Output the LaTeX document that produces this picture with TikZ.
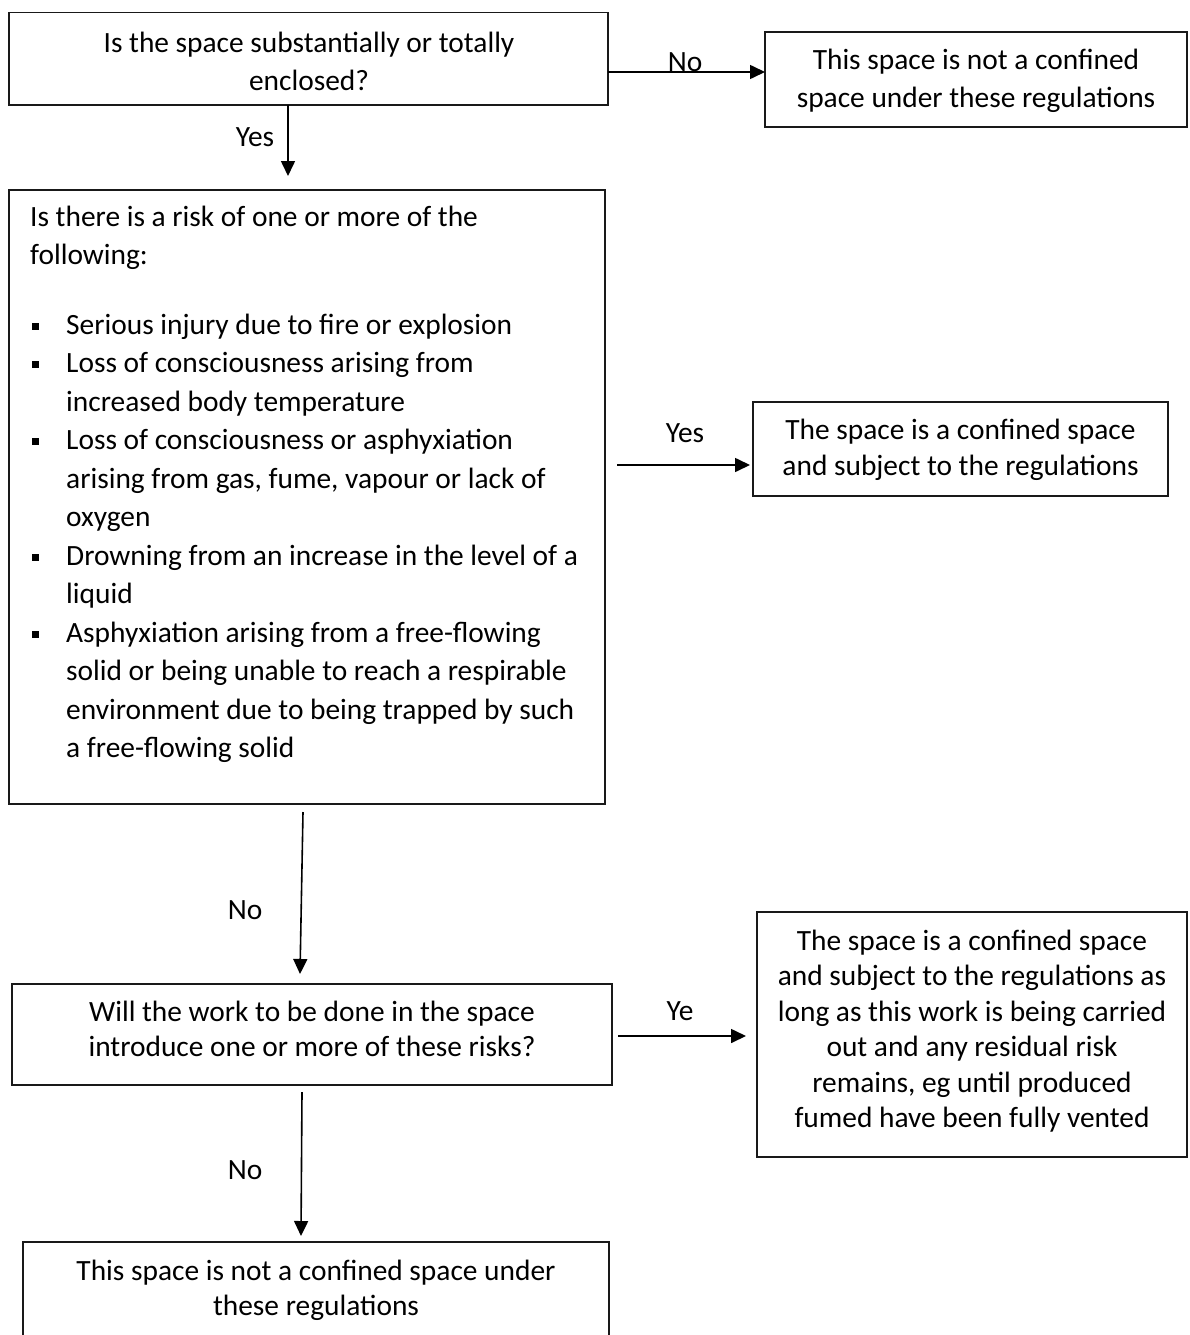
\documentclass[tikz,border=0pt]{standalone}
\usepackage{fontspec}
\setmainfont{Carlito}
\usetikzlibrary{arrows.meta}
\newcommand\sqbul{\makebox[34pt][l]{\rule[4.2pt]{7.2pt}{7.2pt}}}
\begin{document}
\begin{tikzpicture}[x=1pt,y=-1pt,
  box/.style={draw=black!90,line width=1.8pt,inner sep=0pt},
  txt/.style={inner sep=0pt,anchor=base,font=\fontsize{29.4}{34}\selectfont},
  ltxt/.style={inner sep=0pt,anchor=base west,font=\fontsize{29.4}{34}\selectfont},
  lab/.style={inner sep=0pt,font=\fontsize{29.4}{34}\selectfont},
  arr/.style={line width=1.6pt,-{Triangle[length=15pt,width=14pt]}}]
\useasboundingbox (0,0) rectangle (1190,1335);
\clip (0,0) rectangle (1190,1335);
% boxes
\node[box,minimum width=599pt,minimum height=92.5pt] (b1) at (308.5,58.75) {};
\node[box,minimum width=422pt,minimum height=95pt] (b2) at (976,79.5) {};
\node[box,minimum width=596pt,minimum height=614pt] (b3) at (307,497) {};
\node[box,minimum width=415pt,minimum height=94pt] (b4) at (960.5,449) {};
\node[box,minimum width=600pt,minimum height=101pt] (b5) at (312,1034.5) {};
\node[box,minimum width=430pt,minimum height=245pt] (b6) at (972,1034.5) {};
\node[box,minimum width=586pt,minimum height=96pt] (b7) at (316,1290) {};
% texts
\node[txt] (t1a) at (309,53) {Is the space substantially or totally};
\node[txt] (t1b) at (309,91) {enclosed?};
\node[txt] (t2a) at (976,70) {This space is not a confined};
\node[txt] (t2b) at (976,108) {space under these regulations};
\node[ltxt] (t3a) at (30,226) {Is there is a risk of one or more of the};
\node[ltxt] (t3b) at (30,264.5) {following:};
\node[ltxt] (t3c) at (32,334) {\sqbul Serious injury due to fire or explosion};
\node[ltxt] (t3d) at (32,372.5) {\sqbul Loss of consciousness arising from};
\node[ltxt] (t3e) at (66,411) {increased body temperature};
\node[ltxt] (t3f) at (32,449.5) {\sqbul Loss of consciousness or asphyxiation};
\node[ltxt] (t3g) at (66,488) {arising from gas, fume, vapour or lack of};
\node[ltxt] (t3h) at (66,526.5) {oxygen};
\node[ltxt] (t3i) at (32,565) {\sqbul Drowning from an increase in the level of a};
\node[ltxt] (t3j) at (66,603.5) {liquid};
\node[ltxt] (t3k) at (32,642) {\sqbul Asphyxiation arising from a free-flowing};
\node[ltxt] (t3l) at (66,680.5) {solid or being unable to reach a respirable};
\node[ltxt] (t3m) at (66,719) {environment due to being trapped by such};
\node[ltxt] (t3n) at (66,757.5) {a free-flowing solid};
\node[txt] (t4a) at (960.5,439) {The space is a confined space};
\node[txt] (t4b) at (960.5,475) {and subject to the regulations};
\node[txt] (t5a) at (312,1021) {Will the work to be done in the space};
\node[txt] (t5b) at (312,1056.5) {introduce one or more of these risks?};
\node[txt] (t6a) at (972,950) {The space is a confined space};
\node[txt] (t6b) at (972,985.5) {and subject to the regulations as};
\node[txt] (t6c) at (972,1021) {long as this work is being carried};
\node[txt] (t6d) at (972,1056.5) {out and any residual risk};
\node[txt] (t6e) at (972,1092) {remains, eg until produced};
\node[txt] (t6f) at (972,1127.5) {fumed have been fully vented};
\node[txt] (t7a) at (316,1280) {This space is not a confined space under};
\node[txt] (t7b) at (316,1315) {these regulations};
% connector ends
\coordinate (c1s) at (608,72);   \coordinate (c1e) at (765,72);
\coordinate (c2s) at (288,105);  \coordinate (c2e) at (288,176);
\coordinate (c3s) at (617,465);  \coordinate (c3e) at (750,465);
\coordinate (c4s) at (303,812);  \coordinate (c4e) at (300,974);
\coordinate (c5s) at (618,1036); \coordinate (c5e) at (746,1036);
\coordinate (c6s) at (302,1092); \coordinate (c6e) at (301,1236);
\draw[arr] (c1s) -- (c1e);
\draw[arr] (c2s) -- (c2e);
\draw[arr] (c3s) -- (c3e);
\draw[arr] (c4s) -- (c4e);
\draw[arr] (c5s) -- (c5e);
\draw[arr] (c6s) -- (c6e);
% labels
\node[lab] (l1) at (685,62) {No};
\node[lab] (l2) at (255,137) {Yes};
\node[lab] (l3) at (685,433) {Yes};
\node[lab] (l4) at (245,910) {No};
\node[lab] (l5) at (680,1011) {Ye};
\node[lab] (l6) at (245,1170) {No};
\end{tikzpicture}
\end{document}
